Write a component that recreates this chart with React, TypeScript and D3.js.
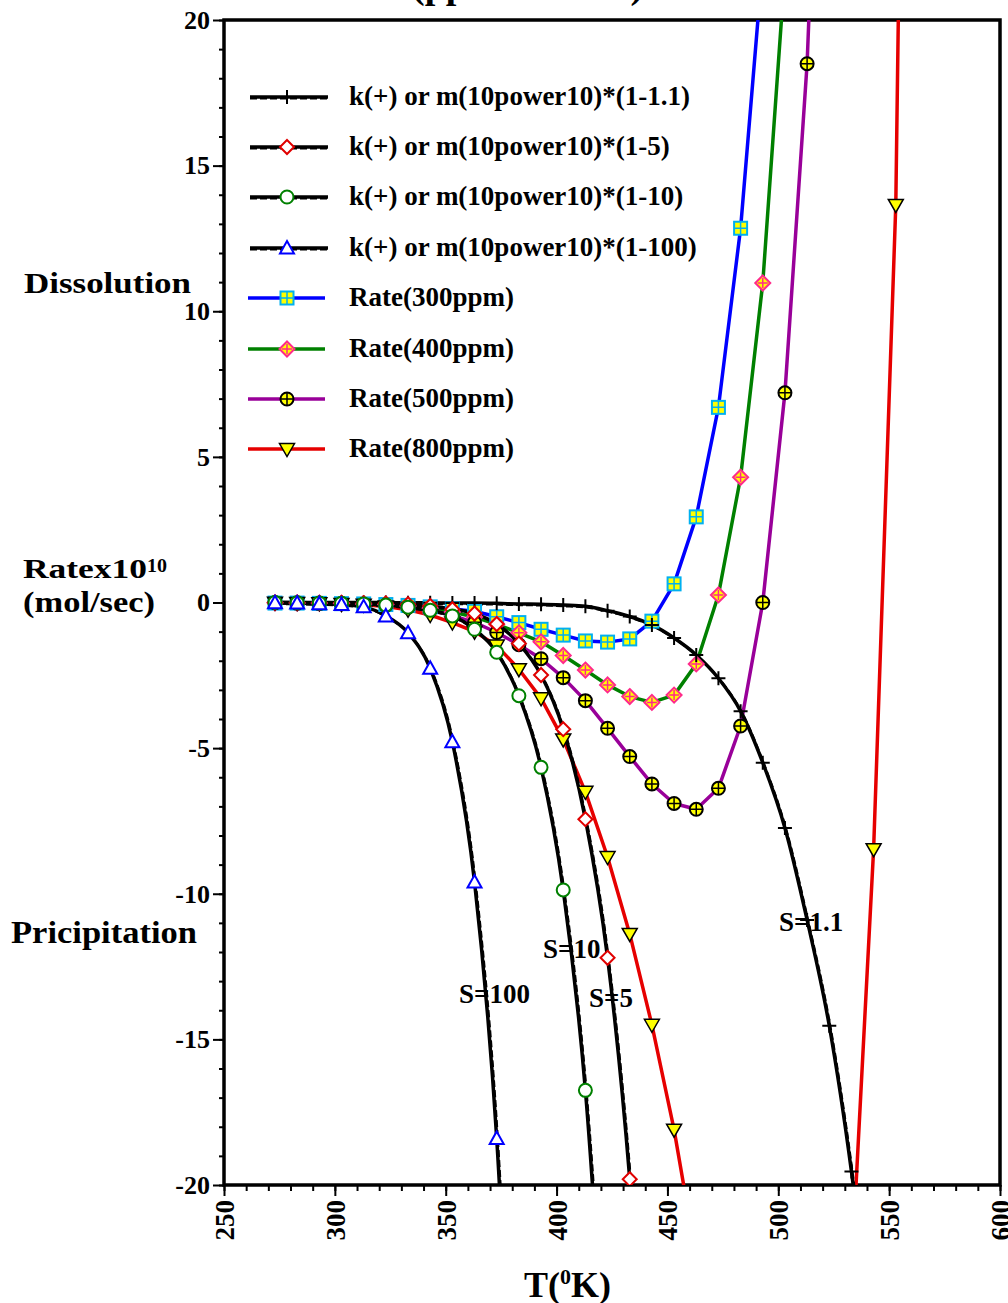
import React, { Component } from 'react';
import * as d3 from 'd3';

// Temperatures (K) at which every series was computed
const temps = [273, 283, 293, 303, 313, 323, 333, 343, 353, 363, 373, 383, 393, 403, 413,
  423, 433, 443, 453, 463, 473, 483, 493, 503, 513, 523, 533, 543, 553, 563];

// k(+) or m (10power10)*(1-S) curves
const s1_1 = [0, 0, 0, 0, 0, 0, -0.01, -0.01, -0.02, -0.02, -0.03, -0.05, -0.06, -0.09, -0.13,
  -0.28, -0.48, -0.77, -1.22, -1.8, -2.6, -3.73, -5.5, -7.74, -10.9, -14.53, -19.54, -26];
const s5 = [0, 0, -0.01, -0.01, -0.02, -0.03, -0.06, -0.12, -0.23, -0.38, -0.74, -1.41, -2.49,
  -4.35, -7.44, -12.2, -19.8, -31];
const s10 = [0, -0.01, -0.02, -0.03, -0.05, -0.09, -0.16, -0.27, -0.46, -0.92, -1.71, -3.2,
  -5.66, -9.87, -16.75, -28];
const s100 = [-0.01, -0.02, -0.04, -0.07, -0.15, -0.46, -1.04, -2.26, -4.78, -9.6, -18.4, -34];

// Rate curves
const rate300 = [-0.02, -0.02, -0.03, -0.04, -0.05, -0.07, -0.1, -0.15, -0.22, -0.3, -0.49,
  -0.69, -0.92, -1.12, -1.32, -1.36, -1.25, -0.64, 0.64, 2.94, 6.7, 12.85, 22];
const rate400 = [-0.01, -0.02, -0.02, -0.03, -0.05, -0.07, -0.12, -0.2, -0.33, -0.5, -0.75,
  -1.04, -1.35, -1.82, -2.32, -2.83, -3.23, -3.43, -3.18, -2.11, 0.26, 4.3, 10.97, 21.7];
const rate500 = [-0.01, -0.02, -0.03, -0.04, -0.06, -0.1, -0.16, -0.27, -0.45, -0.68, -1.03,
  -1.45, -1.93, -2.58, -3.37, -4.32, -5.29, -6.23, -6.9, -7.1, -6.38, -4.24, 0.0, 7.2, 18.5, 38];
const rate800 = [-0.01, -0.02, -0.03, -0.05, -0.08, -0.14, -0.25, -0.43, -0.69, -1.0, -1.48,
  -2.29, -3.29, -4.7, -6.5, -8.74, -11.38, -14.5, -18.1, -22.5, -26, -29, -31, -32, -31, -28,
  -23, -8.47, 13.65, 70];

const legendLabels = [
  'k(+) or m(10power10)*(1-1.1)',
  'k(+) or m(10power10)*(1-5)',
  'k(+) or m(10power10)*(1-10)',
  'k(+) or m(10power10)*(1-100)',
  'Rate(300ppm)',
  'Rate(400ppm)',
  'Rate(500ppm)',
  'Rate(800ppm)',
];

const curveLabels = ['S=1.1', 'S=5', 'S=10', 'S=100'];

const xTicks = [250, 300, 350, 400, 450, 500, 550, 600];
const yTicks = [-20, -15, -10, -5, 0, 5, 10, 15, 20];

const FONT = '"Liberation Serif", "Times New Roman", serif';

class App extends Component {
  myRef = React.createRef<HTMLDivElement>();

  componentDidMount() {
    const root = d3.select(this.myRef.current);
    root.selectAll('*').remove();

    const W = 1008;
    const H = 1303;
    const plot = { left: 224, right: 1000, top: 20, bottom: 1185 };

    const x = d3.scaleLinear().domain([250, 600]).range([plot.left, plot.right]);
    const y = d3.scaleLinear().domain([-20, 20]).range([plot.bottom, plot.top]);

    const svg = root.append('svg')
      .attr('width', W)
      .attr('height', H)
      .style('position', 'absolute')
      .style('left', '0px')
      .style('top', '0px')
      .style('background', '#fff')
      .attr('font-family', FONT)
      .attr('font-weight', 'bold');

    svg.append('defs').append('clipPath').attr('id', 'plotClip')
      .append('rect')
      .attr('x', plot.left).attr('y', plot.top)
      .attr('width', plot.right - plot.left).attr('height', plot.bottom - plot.top);

    // Title (cut off by the top of the image)
    svg.append('text')
      .attr('x', 412).attr('y', -2)
      .attr('font-size', 38)
      .text('(ppm CaCO3)');

    // Axes: major + minor ticks
    const yMajor = d3.axisLeft(y).tickValues(yTicks).tickSize(11).tickPadding(3)
      .tickFormat(d => String(d));
    const yMinor = d3.axisLeft(y).tickValues(d3.range(-20, 21, 1)).tickSize(5).tickFormat(() => '');
    const xMajor = d3.axisBottom(x).tickValues(xTicks).tickSize(11).tickFormat(d => String(d));
    const xMinor = d3.axisBottom(x).tickValues(d3.range(250, 601, 10)).tickSize(6).tickFormat(() => '');

    const gyMinor = svg.append('g').attr('transform', `translate(${plot.left},0)`).call(yMinor);
    const gy = svg.append('g').attr('transform', `translate(${plot.left},0)`).call(yMajor);
    const gxMinor = svg.append('g').attr('transform', `translate(0,${plot.bottom})`).call(xMinor);
    const gx = svg.append('g').attr('transform', `translate(0,${plot.bottom})`).call(xMajor);

    [gy, gyMinor, gx, gxMinor].forEach(g => {
      g.select('.domain').remove();
      g.selectAll('line').attr('stroke', '#000').attr('stroke-width', 2);
    });
    gy.selectAll('text')
      .attr('font-family', FONT).attr('font-weight', 'bold').attr('font-size', 26)
      .attr('fill', '#000');
    gx.selectAll('text')
      .attr('font-family', FONT).attr('font-weight', 'bold').attr('font-size', 27)
      .attr('fill', '#000')
      .attr('text-anchor', 'end')
      .attr('transform', 'rotate(-90)')
      .attr('x', -15).attr('y', 0).attr('dy', '0.35em');

    // Plot frame
    svg.append('rect')
      .attr('x', plot.left).attr('y', plot.top)
      .attr('width', plot.right - plot.left).attr('height', plot.bottom - plot.top)
      .attr('fill', 'none').attr('stroke', '#000').attr('stroke-width', 3.5);

    // Marker painter
    const marker = (g: any, kind: string, cx: number, cy: number) => {
      const diamond = (r: number) => `M${cx},${cy - r}L${cx + r},${cy}L${cx},${cy + r}L${cx - r},${cy}Z`;
      const cross = (r: number) => `M${cx - r},${cy}H${cx + r}M${cx},${cy - r}V${cy + r}`;
      if (kind === 'plus') {
        g.append('path').attr('d', cross(7)).attr('stroke', '#000').attr('stroke-width', 2).attr('fill', 'none');
      } else if (kind === 'diamondOpen') {
        g.append('path').attr('d', diamond(7)).attr('fill', '#fff').attr('stroke', '#e00000').attr('stroke-width', 2);
      } else if (kind === 'circleOpen') {
        g.append('circle').attr('cx', cx).attr('cy', cy).attr('r', 6.5)
          .attr('fill', '#fff').attr('stroke', '#008000').attr('stroke-width', 2);
      } else if (kind === 'triangleOpen') {
        g.append('path').attr('d', `M${cx},${cy - 7}L${cx + 7},${cy + 5.5}L${cx - 7},${cy + 5.5}Z`)
          .attr('fill', '#fff').attr('stroke', '#0000ff').attr('stroke-width', 2);
      } else if (kind === 'squareGrid') {
        g.append('rect').attr('x', cx - 6.5).attr('y', cy - 6.5).attr('width', 13).attr('height', 13)
          .attr('fill', '#ffff00').attr('stroke', '#00b0f0').attr('stroke-width', 2);
        g.append('path').attr('d', cross(6.5)).attr('stroke', '#00b0f0').attr('stroke-width', 1.5);
      } else if (kind === 'diamondCross') {
        g.append('path').attr('d', diamond(7.5)).attr('fill', '#ffff00').attr('stroke', '#ff2a8a').attr('stroke-width', 2);
        g.append('path').attr('d', cross(5)).attr('stroke', '#ff2a8a').attr('stroke-width', 1.5);
      } else if (kind === 'circleCross') {
        g.append('circle').attr('cx', cx).attr('cy', cy).attr('r', 6.5)
          .attr('fill', '#ffff00').attr('stroke', '#000').attr('stroke-width', 2);
        g.append('path').attr('d', cross(6.5)).attr('stroke', '#000').attr('stroke-width', 1.5);
      } else if (kind === 'triangleDown') {
        g.append('path').attr('d', `M${cx - 7.5},${cy - 5.5}L${cx + 7.5},${cy - 5.5}L${cx},${cy + 7.5}Z`)
          .attr('fill', '#ffff00').attr('stroke', '#000').attr('stroke-width', 1.5);
      }
    };

    const series = [
      { values: rate300, color: '#0000ff', kind: 'squareGrid', black: false },
      { values: rate400, color: '#008000', kind: 'diamondCross', black: false },
      { values: rate500, color: '#990099', kind: 'circleCross', black: false },
      { values: rate800, color: '#e60000', kind: 'triangleDown', black: false },
      { values: s1_1, color: '#000', kind: 'plus', black: true },
      { values: s5, color: '#000', kind: 'diamondOpen', black: true },
      { values: s10, color: '#000', kind: 'circleOpen', black: true },
      { values: s100, color: '#000', kind: 'triangleOpen', black: true },
    ];

    const plotG = svg.append('g').attr('clip-path', 'url(#plotClip)');

    // Lines first, then markers on top
    series.forEach(s => {
      const pts: [number, number][] = s.values.map((v, i) => [temps[i], v]);
      const line = d3.line<[number, number]>()
        .x(d => x(d[0]))
        .y(d => y(d[1]))
        .curve(s.black ? d3.curveMonotoneX : d3.curveLinear);
      plotG.append('path')
        .attr('d', line(pts))
        .attr('fill', 'none')
        .attr('stroke', s.color)
        .attr('stroke-width', s.black ? 3.5 : 3.5)
        .attr('stroke-linejoin', 'round');
      if (s.black) {
        // dashed overlay used by the original plotting package
        plotG.append('path')
          .attr('d', line(pts))
          .attr('transform', 'translate(1,1)')
          .attr('fill', 'none')
          .attr('stroke', '#000')
          .attr('stroke-width', 2.5)
          .attr('stroke-dasharray', '7,3');
      }
    });

    series.forEach(s => {
      s.values.forEach((v, i) => {
        if (v < -20.3 || v > 20.3) return;
        marker(plotG, s.kind, x(temps[i]), y(v));
      });
    });

    // Legend
    const legendOrder = [4, 5, 6, 7, 0, 1, 2, 3];
    const legendY = [97, 147, 197, 248, 298, 349, 399, 449];
    legendOrder.forEach((si, i) => {
      const s = series[si];
      const ly = legendY[i];
      if (s.black) {
        svg.append('line').attr('x1', 250).attr('x2', 328).attr('y1', ly).attr('y2', ly)
          .attr('stroke', '#000').attr('stroke-width', 3.5);
        svg.append('line').attr('x1', 250).attr('x2', 328).attr('y1', ly + 1).attr('y2', ly + 1)
          .attr('stroke', '#000').attr('stroke-width', 3).attr('stroke-dasharray', '7,3');
        marker(svg, s.kind, 287, ly);
      } else {
        svg.append('line').attr('x1', 248).attr('x2', 325).attr('y1', ly).attr('y2', ly)
          .attr('stroke', s.color).attr('stroke-width', 3.5);
        marker(svg, s.kind, 287, ly);
      }
      svg.append('text')
        .attr('x', 349).attr('y', ly + 8)
        .attr('font-size', 27)
        .text(legendLabels[i]);
    });

    // Curve labels
    const labelPos = [[779, 931], [589, 1007], [543, 958], [459, 1003]];
    curveLabels.forEach((t, i) => {
      svg.append('text')
        .attr('x', labelPos[i][0]).attr('y', labelPos[i][1])
        .attr('font-size', 27)
        .text(t);
    });

    // Side labels
    svg.append('text').attr('x', 24).attr('y', 293).attr('font-size', 30)
      .attr('textLength', 167).attr('lengthAdjust', 'spacingAndGlyphs').text('Dissolution');
    svg.append('text').attr('x', 23).attr('y', 578).attr('font-size', 28)
      .attr('textLength', 124).attr('lengthAdjust', 'spacingAndGlyphs').text('Ratex10');
    svg.append('text').attr('x', 147).attr('y', 572).attr('font-size', 18)
      .attr('textLength', 20).attr('lengthAdjust', 'spacingAndGlyphs').text('10');
    svg.append('text').attr('x', 23).attr('y', 612).attr('font-size', 29)
      .attr('textLength', 132).attr('lengthAdjust', 'spacingAndGlyphs').text('(mol/sec)');
    svg.append('text').attr('x', 11).attr('y', 943).attr('font-size', 31)
      .attr('textLength', 186).attr('lengthAdjust', 'spacingAndGlyphs').text('Pricipitation');

    // X axis title T(0K)
    const xt = svg.append('text').attr('x', 524).attr('y', 1297).attr('font-size', 36);
    xt.append('tspan').text('T(');
    xt.append('tspan').attr('font-size', 22).attr('dy', -13).text('0');
    xt.append('tspan').attr('dy', 13).text('K)');
  }

  render() {
    return <div ref={this.myRef}></div>;
  }
}

export default App;
